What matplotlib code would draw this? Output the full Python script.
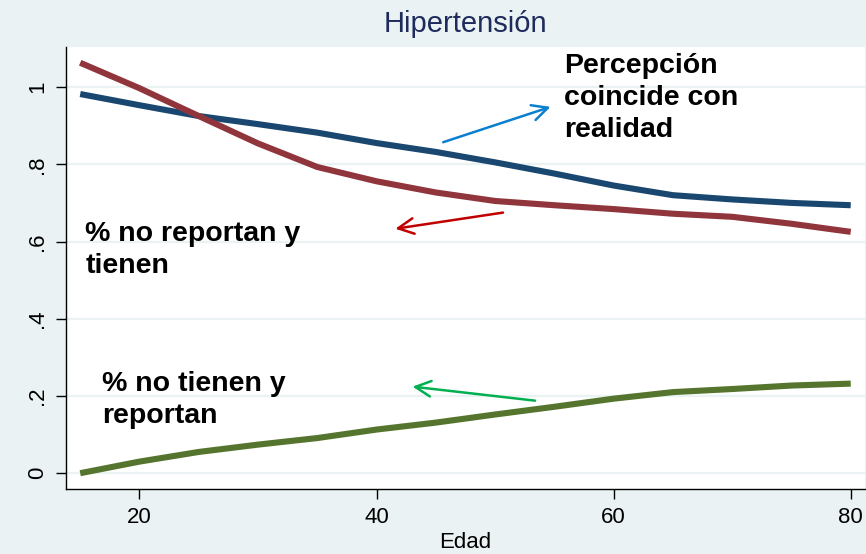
import matplotlib.pyplot as plt
import numpy as np

plt.rcParams['font.family'] = ['Liberation Sans', 'DejaVu Sans']

# datos
edad = [15, 20, 25, 30, 35, 40, 45, 50, 55, 60, 65, 70, 75, 80]
coincide = [0.982, 0.953, 0.925, 0.904, 0.882, 0.855, 0.832, 0.805, 0.776, 0.745, 0.720, 0.709, 0.700, 0.694]
no_reportan = [1.063, 0.997, 0.925, 0.854, 0.793, 0.756, 0.727, 0.705, 0.694, 0.684, 0.672, 0.664, 0.646, 0.625]
no_tienen = [0.0, 0.030, 0.055, 0.074, 0.091, 0.113, 0.131, 0.152, 0.172, 0.193, 0.210, 0.218, 0.227, 0.232]

yticks = [0, 0.2, 0.4, 0.6, 0.8, 1.0]
ytick_labels = ['0', '.2', '.4', '.6', '.8', '1']
xticks = [20, 40, 60, 80]

bg = '#eaf2f3'

fig = plt.figure(figsize=(8.66, 5.54), dpi=100, facecolor=bg)
ax = fig.add_axes([0.0762, 0.1173, 0.9226, 0.798])
ax.set_facecolor('white')

for y in yticks:
    ax.axhline(y, color=bg, lw=1.6, zorder=0)

ax.plot(edad, coincide, color='#1a476f', lw=4.4, solid_capstyle='butt')
ax.plot(edad, no_reportan, color='#90353b', lw=4.4, solid_capstyle='butt')
ax.plot(edad, no_tienen, color='#55752f', lw=4.4, solid_capstyle='butt')

ax.set_xlim(13.8, 81.2)
ax.set_ylim(-0.041, 1.104)
ax.set_xticks(xticks)
ax.set_yticks(yticks)
ax.set_yticklabels(ytick_labels, rotation=90, va='center')
ax.tick_params(axis='both', labelsize=16, length=7, width=1, direction='out', pad=6)

for s in ['top', 'right']:
    ax.spines[s].set_visible(False)
for s in ['left', 'bottom']:
    ax.spines[s].set_color('black')
    ax.spines[s].set_linewidth(1)

ax.set_xlabel('Edad', fontsize=16, labelpad=3)
ax.set_title('Hipertensión', fontsize=21, color='#1e2b5c', pad=11)

# textos y flechas
ax.text(55.8, 1.087, 'Percepción\ncoincide con\nrealidad', fontsize=20.5,
        fontweight='bold', va='top', ha='left', linespacing=1.3)
ax.text(15.44, 0.653, '% no reportan y\ntienen', fontsize=20.5,
        fontweight='bold', va='top', ha='left', linespacing=1.3)
ax.text(16.85, 0.264, '% no tienen y\nreportan', fontsize=20.5,
        fontweight='bold', va='top', ha='left', linespacing=1.3)

ax.annotate('', xy=(54.9, 0.951), xytext=(45.4, 0.855),
            arrowprops=dict(arrowstyle='->', color='#0a7fd0', lw=1.8, mutation_scale=28))
ax.annotate('', xy=(41.35, 0.632), xytext=(50.9, 0.676),
            arrowprops=dict(arrowstyle='->', color='#c00000', lw=1.8, mutation_scale=28))
ax.annotate('', xy=(42.8, 0.225), xytext=(53.6, 0.187),
            arrowprops=dict(arrowstyle='->', color='#00b050', lw=1.8, mutation_scale=28))

fig.savefig('out.png', dpi=100, facecolor=bg)
